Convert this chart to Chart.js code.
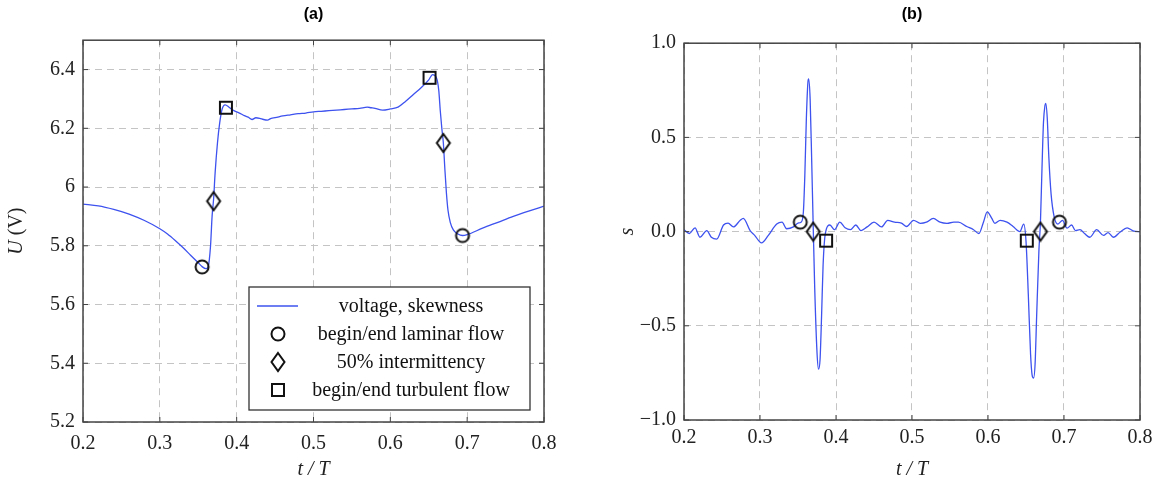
<!DOCTYPE html>
<html>
<head>
<meta charset="utf-8">
<script src="https://cdn.jsdelivr.net/npm/chart.js@4.4.1/dist/chart.umd.min.js"></script>
<style>
  body { margin: 0; background: #fff; }
  #wrap { position: relative; width: 1162px; height: 488px; }
  canvas { position: absolute; top: 0; }
  #chartA { left: 0; }
  #chartB { left: 570px; }
</style>
</head>
<body>
<div id="wrap">
  <canvas id="chartA" width="570" height="488"></canvas>
  <canvas id="chartB" width="592" height="488"></canvas>
</div>
<script>
// 数据: (a) 电压
const tVoltage = [0.200, 0.220, 0.240, 0.260, 0.280, 0.300, 0.310, 0.320, 0.330, 0.340, 0.350, 0.355, 0.360, 0.363,
  0.366, 0.368, 0.370, 0.372, 0.375, 0.378, 0.381, 0.385, 0.390, 0.395, 0.400, 0.405, 0.410, 0.415, 0.420, 0.425,
  0.430, 0.435, 0.440, 0.445, 0.450, 0.460, 0.470, 0.480, 0.490, 0.500, 0.510, 0.520, 0.530, 0.540, 0.550, 0.560,
  0.570, 0.575, 0.580, 0.590, 0.600, 0.610, 0.620, 0.630, 0.640, 0.650, 0.655, 0.660, 0.663, 0.665, 0.667, 0.669,
  0.671, 0.673, 0.675, 0.678, 0.682, 0.688, 0.694, 0.700, 0.720, 0.740, 0.760, 0.780, 0.800];
const uVoltage = [5.942, 5.936, 5.924, 5.908, 5.886, 5.858, 5.840, 5.818, 5.794, 5.768, 5.742, 5.729, 5.722, 5.730,
  5.800, 5.900, 5.960, 6.050, 6.150, 6.220, 6.265, 6.280, 6.272, 6.262, 6.256, 6.250, 6.243, 6.238, 6.230, 6.236,
  6.234, 6.230, 6.228, 6.234, 6.236, 6.242, 6.246, 6.250, 6.252, 6.256, 6.258, 6.260, 6.262, 6.264, 6.266, 6.268,
  6.272, 6.270, 6.268, 6.262, 6.266, 6.272, 6.292, 6.315, 6.338, 6.365, 6.383, 6.372, 6.330, 6.260, 6.200, 6.150,
  6.060, 5.980, 5.922, 5.880, 5.854, 5.840, 5.835, 5.838, 5.860, 5.880, 5.900, 5.918, 5.935];

// (b) 偏度
const tSkew = [0.200, 0.207, 0.2145, 0.221, 0.230, 0.236, 0.243, 0.252, 0.258, 0.265, 0.274, 0.278, 0.287, 0.293,
  0.302, 0.311, 0.322, 0.329, 0.335, 0.344, 0.350, 0.354, 0.357, 0.359, 0.361, 0.363, 0.364, 0.366, 0.368, 0.370,
  0.372, 0.375, 0.377, 0.379, 0.381, 0.383, 0.386, 0.392, 0.398, 0.405, 0.412, 0.419, 0.426, 0.433, 0.441, 0.450,
  0.460, 0.468, 0.477, 0.486, 0.493, 0.502, 0.511, 0.519, 0.528, 0.537, 0.546, 0.555, 0.561, 0.572, 0.581, 0.588,
  0.594, 0.599, 0.605, 0.609, 0.616, 0.625, 0.633, 0.642, 0.647, 0.650, 0.653, 0.656, 0.658, 0.660, 0.662, 0.664,
  0.667, 0.669, 0.671, 0.673, 0.675, 0.676, 0.678, 0.680, 0.683, 0.687, 0.692, 0.698, 0.704, 0.710, 0.715, 0.721,
  0.727, 0.734, 0.743, 0.752, 0.758, 0.765, 0.774, 0.783, 0.792, 0.800];
const sSkew = [0.010, -0.010, 0.020, -0.030, 0.005, -0.030, -0.040, 0.035, 0.045, 0.025, 0.060, 0.070, 0.005, -0.020,
  -0.060, -0.020, 0.040, 0.050, 0.015, 0.025, 0.045, 0.050, 0.100, 0.300, 0.600, 0.790, 0.810, 0.700, 0.380, 0.030,
  -0.300, -0.640, -0.730, -0.680, -0.450, -0.180, -0.010, 0.035, 0.010, 0.050, 0.020, 0.010, 0.035, 0.005, 0.025, 0.050,
  0.025, 0.060, 0.050, 0.045, 0.027, 0.060, 0.044, 0.050, 0.070, 0.050, 0.044, 0.050, 0.050, 0.027, 0.010, -0.010,
  0.050, 0.105, 0.070, 0.044, 0.060, 0.050, 0.027, 0.000, 0.040, -0.050, -0.330, -0.650, -0.760, -0.777, -0.700, -0.450,
  -0.100, 0.050, 0.330, 0.580, 0.670, 0.681, 0.600, 0.400, 0.200, 0.080, 0.040, 0.060, 0.018, 0.035, 0.005, 0.010,
  -0.010, -0.030, 0.010, -0.020, -0.005, -0.030, -0.002, 0.020, 0.002, 0.000];

// 标记点
const laminarA = [[0.355, 5.728], [0.694, 5.835]];
const intermA = [[0.370, 5.952], [0.669, 6.150]];
const turbA = [[0.386, 6.270], [0.651, 6.372]];
const laminarB = [[0.353, 0.050], [0.694, 0.050]];
const intermB = [[0.370, 0.000], [0.669, 0.000]];
const turbB = [[0.387, -0.048], [0.651, -0.048]];

// 刻度
const xTicks = [0.2, 0.3, 0.4, 0.5, 0.6, 0.7, 0.8];
const yTicksA = [5.2, 5.4, 5.6, 5.8, 6, 6.2, 6.4];
const yTicksB = [-1, -0.5, 0, 0.5, 1];

const labels = ['voltage, skewness', 'begin/end laminar flow', '50% intermittency', 'begin/end turbulent flow'];

const SERIF = '"Liberation Serif", "DejaVu Serif", serif';
const LINE_BLUE = '#3d52ee';

// 标记图形
function makeMarker(kind) {
  const c = document.createElement('canvas');
  c.width = 18; c.height = 22;
  const g = c.getContext('2d');
  g.strokeStyle = '#111';
  g.lineWidth = 2;
  g.beginPath();
  if (kind === 'circle') {
    g.arc(9, 11, 6.5, 0, Math.PI * 2);
  } else if (kind === 'diamond') {
    g.moveTo(9, 2); g.lineTo(15.5, 11); g.lineTo(9, 20); g.lineTo(2.5, 11); g.closePath();
  } else {
    g.rect(3, 5, 12, 12);
  }
  g.stroke();
  return c;
}
const markCircle = makeMarker('circle');
const markDiamond = makeMarker('diamond');
const markSquare = makeMarker('square');

const pts = arr => arr.map(p => ({ x: p[0], y: p[1] }));
const zip = (xs, ys) => xs.map((x, i) => ({ x: x, y: ys[i] }));

// 边框和内侧刻度
const framePlugin = {
  id: 'frame',
  afterDraw(chart) {
    const { ctx, chartArea: a, scales } = chart;
    ctx.save();
    ctx.strokeStyle = '#444';
    ctx.lineWidth = 1;
    ctx.beginPath();
    scales.x.ticks.forEach((t, i) => {
      const x = scales.x.getPixelForTick(i);
      ctx.moveTo(x, a.bottom); ctx.lineTo(x, a.bottom - 5);
      ctx.moveTo(x, a.top); ctx.lineTo(x, a.top + 5);
    });
    scales.y.ticks.forEach((t, i) => {
      const y = scales.y.getPixelForTick(i);
      ctx.moveTo(a.left, y); ctx.lineTo(a.left + 5, y);
      ctx.moveTo(a.right, y); ctx.lineTo(a.right - 5, y);
    });
    ctx.stroke();
    ctx.lineWidth = 1.5;
    ctx.strokeRect(a.left, a.top, a.width, a.height);
    ctx.restore();
  }
};

// y 轴标题: 斜体 U + 正体 (V)
const unitTitlePlugin = {
  id: 'unitTitle',
  afterDraw(chart) {
    const { ctx, chartArea: a } = chart;
    ctx.save();
    ctx.translate(17, (a.top + a.bottom) / 2);
    ctx.rotate(-Math.PI / 2);
    ctx.fillStyle = '#222';
    ctx.textBaseline = 'middle';
    ctx.font = 'italic 20px ' + SERIF;
    const wU = ctx.measureText('U').width;
    ctx.font = '20px ' + SERIF;
    const wV = ctx.measureText(' (V)').width;
    let x = -(wU + wV) / 2;
    ctx.font = 'italic 20px ' + SERIF;
    ctx.fillText('U', x, 0);
    ctx.font = '20px ' + SERIF;
    ctx.fillText(' (V)', x + wU, 0);
    ctx.restore();
  }
};

// 图例 (只在 a 图)
const legendPlugin = {
  id: 'boxLegend',
  afterDraw(chart) {
    const { ctx, chartArea: a } = chart;
    const w = 281, h = 123;
    const left = a.right - 14 - w, top = a.bottom - 12 - h;
    ctx.save();
    ctx.fillStyle = '#fff';
    ctx.fillRect(left, top, w, h);
    ctx.strokeStyle = '#333';
    ctx.lineWidth = 1.3;
    ctx.strokeRect(left, top, w, h);
    ctx.font = '20px ' + SERIF;
    ctx.fillStyle = '#111';
    ctx.textAlign = 'center';
    ctx.textBaseline = 'middle';
    chart.data.datasets.forEach((ds, i) => {
      const y = top + 19 + i * 28;
      if (ds.showLine) {
        ctx.strokeStyle = ds.borderColor;
        ctx.lineWidth = 1.3;
        ctx.beginPath(); ctx.moveTo(left + 8, y); ctx.lineTo(left + 49, y); ctx.stroke();
      } else {
        const m = ds.pointStyle;
        ctx.drawImage(m, left + 29 - m.width / 2, y - m.height / 2);
      }
      ctx.fillText(ds.label, left + 162, y + 1);
    });
    ctx.restore();
  }
};

function markerSet(label, data, style) {
  return {
    label: label, data: pts(data), pointStyle: style, pointRadius: 7,
    borderColor: '#111', backgroundColor: 'transparent', showLine: false, order: 0
  };
}

function buildChart(id, cfg) {
  const tickFont = { family: SERIF, size: 20 };
  return new Chart(document.getElementById(id), {
    type: 'scatter',
    data: {
      datasets: [
        { label: labels[0], data: cfg.line, showLine: true, borderColor: LINE_BLUE, borderWidth: 1.3,
          pointRadius: 0, cubicInterpolationMode: 'monotone', order: 5 },
        markerSet(labels[1], cfg.lam, markCircle),
        markerSet(labels[2], cfg.inter, markDiamond),
        markerSet(labels[3], cfg.turb, markSquare)
      ]
    },
    options: {
      responsive: false,
      animation: false,
      devicePixelRatio: 1,
      layout: { padding: { left: 0, right: cfg.padRight, top: 0, bottom: 0 } },
      plugins: {
        legend: { display: false },
        tooltip: { enabled: false },
        title: {
          display: true, text: cfg.title, fullSize: false, color: '#000',
          font: { family: '"Liberation Sans", Arial, sans-serif', size: 16, weight: 'bold', lineHeight: 1.2 },
          padding: { top: 5, bottom: cfg.titleBottom }
        }
      },
      scales: {
        x: {
          type: 'linear', min: 0.2, max: 0.8,
          afterBuildTicks: ax => { ax.ticks = xTicks.map(v => ({ value: v })); },
          afterFit: sc => { sc.height = cfg.xHeight; },
          grid: { color: '#c4c4c4', lineWidth: 1, drawTicks: false },
          border: { display: false, dash: [7, 5] },
          ticks: { font: tickFont, color: '#222', padding: cfg.xPad, maxRotation: 0,
            callback: v => v.toFixed(1) },
          title: { display: true, text: 't / T', color: '#222', padding: { top: 0, bottom: 6 },
            font: { family: SERIF, size: 20, style: 'italic' } }
        },
        y: {
          type: 'linear', min: cfg.yMin, max: cfg.yMax,
          afterBuildTicks: ax => { ax.ticks = cfg.yTicks.map(v => ({ value: v })); },
          afterFit: sc => { sc.width = cfg.yWidth; },
          grid: { color: '#c4c4c4', lineWidth: 1, drawTicks: false },
          border: { display: false, dash: [7, 5] },
          ticks: { font: tickFont, color: '#222', padding: 8, callback: cfg.yFormat },
          title: { display: cfg.yTitle !== '', text: cfg.yTitle, color: '#222', padding: { top: cfg.yTitlePad, bottom: 0 },
            font: { family: SERIF, size: 20, style: 'italic' } }
        }
      }
    },
    plugins: cfg.legend ? [framePlugin, unitTitlePlugin, legendPlugin] : [framePlugin]
  });
}

buildChart('chartA', {
  title: '(a)', line: zip(tVoltage, uVoltage), lam: laminarA, inter: intermA, turb: turbA,
  yMin: 5.2, yMax: 6.5, yTicks: yTicksA, yFormat: v => String(Math.round(v * 10) / 10),
  yTitle: '', yTitlePad: 3,
  yWidth: 83, padRight: 26, xHeight: 66, xPad: 10, titleBottom: 16, legend: true
});

buildChart('chartB', {
  title: '(b)', line: zip(tSkew, sSkew), lam: laminarB, inter: intermB, turb: turbB,
  yMin: -1, yMax: 1, yTicks: yTicksB, yFormat: v => v.toFixed(1).replace('-', '\u2212'),
  yTitle: 's', yTitlePad: 46,
  yWidth: 114, padRight: 22, xHeight: 68, xPad: 6, titleBottom: 19, legend: false
});
</script>
</body>
</html>
